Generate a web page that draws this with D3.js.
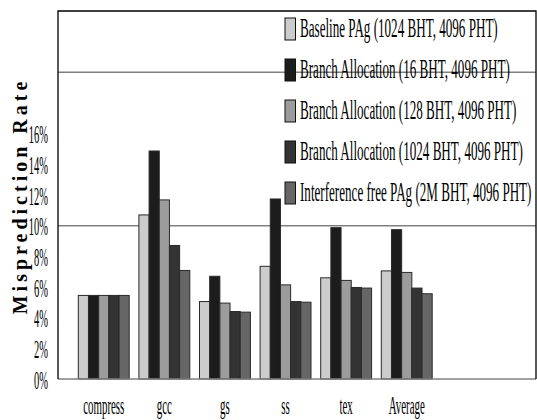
<!DOCTYPE html>
<html>
<head>
<meta charset="utf-8">
<script src="https://cdn.jsdelivr.net/npm/d3@7"></script>
<style>
  body { margin: 0; background: #fff; }
  svg { display: block; }
  text { font-family: "Liberation Serif", "Times New Roman", serif; fill: #000; }
</style>
</head>
<body>
<div class="graph"></div>
<script>
let benchmarks = ["compress", "gcc", "gs", "ss", "tex", "Average"];
let seriesNames = [
  "Baseline PAg (1024 BHT, 4096 PHT)",
  "Branch Allocation (16 BHT, 4096 PHT)",
  "Branch Allocation (128 BHT, 4096 PHT)",
  "Branch Allocation (1024 BHT, 4096 PHT)",
  "Interference free PAg (2M BHT, 4096 PHT)"
];
let baseline = [5.45, 10.7, 5.05, 7.35, 6.6, 7.05];
let alloc16 = [5.45, 14.87, 6.7, 11.74, 9.87, 9.74];
let alloc128 = [5.45, 11.68, 4.95, 6.14, 6.43, 6.95];
let alloc1024 = [5.45, 8.71, 4.4, 5.05, 5.97, 5.93];
let interferenceFree = [5.45, 7.08, 4.36, 5.01, 5.93, 5.56];
let yTicks = [0, 2, 4, 6, 8, 10, 12, 14, 16];
let gridValues = [10, 20];

let allSeries = [baseline, alloc16, alloc128, alloc1024, interferenceFree];
let colors = ["#cccccc", "#1c1c1c", "#9c9c9c", "#333333", "#666666"];

let w = 537;
let h = 420;
let plotL = 58, plotR = 536, plotT = 11, plotB = 379;

let svg = d3
  .select(".graph")
  .append("svg")
  .attr("width", w)
  .attr("height", h);

let yScale = d3.scaleLinear().domain([0, 24]).range([plotB, plotT]);

let xScale = d3
  .scaleBand()
  .domain(benchmarks)
  .range([plotL, plotL + 394.5])
  .paddingInner(0.16)
  .paddingOuter(0.335);

let xSub = d3
  .scaleBand()
  .domain(d3.range(allSeries.length))
  .range([0, xScale.bandwidth()]);

// grid lines
svg
  .selectAll("line.grid")
  .data(gridValues)
  .enter()
  .append("line")
  .attr("class", "grid")
  .attr("x1", plotL)
  .attr("x2", plotR)
  .attr("y1", (d) => yScale(d))
  .attr("y2", (d) => yScale(d))
  .style("stroke", "#808080")
  .style("stroke-width", 1.5);

// bars
let rows = [];
benchmarks.forEach(function (b, i) {
  allSeries.forEach(function (s, j) {
    rows.push({ bench: b, series: j, value: s[i] });
  });
});

svg
  .selectAll("rect.bar")
  .data(rows)
  .enter()
  .append("rect")
  .attr("class", "bar")
  .attr("x", (d) => xScale(d.bench) + xSub(d.series))
  .attr("y", (d) => yScale(d.value))
  .attr("width", xSub.bandwidth())
  .attr("height", (d) => yScale(0) - yScale(d.value))
  .style("fill", (d) => colors[d.series])
  .style("stroke", "#2a2a2a")
  .style("stroke-width", 1);

// frame
svg
  .append("line")
  .attr("x1", plotL)
  .attr("x2", plotR)
  .attr("y1", plotB)
  .attr("y2", plotB)
  .style("stroke", "#808080")
  .style("stroke-width", 1.5);
svg
  .append("path")
  .attr("d", `M${plotL},${plotB}V${plotT}H${plotR}V${plotB}`)
  .style("fill", "none")
  .style("stroke", "#000")
  .style("stroke-width", 1.3);

// y axis
let yAxis = d3
  .axisLeft(yScale)
  .tickValues(yTicks)
  .tickFormat((d) => d + "%")
  .tickSize(0);
let gy = svg
  .append("g")
  .attr("transform", `translate(${plotL}, 0)`)
  .call(yAxis);
gy.select(".domain").remove();
gy.selectAll("text")
  .attr("x", -10 / 0.42)
  .attr("dy", "0.36em")
  .attr("transform", "scale(0.42,1)")
  .style("font-size", "25px")
  .style("font-family", '"Liberation Serif", serif');

// x axis
let xAxis = d3.axisBottom(xScale).tickSize(0);
let gx = svg
  .append("g")
  .attr("transform", `translate(0, ${plotB})`)
  .call(xAxis);
gx.select(".domain").remove();
gx.selectAll(".tick text")
  .attr("y", 17)
  .attr("transform", "scale(0.42,1)")
  .style("font-size", "26px")
  .style("font-family", '"Liberation Serif", serif');

// y title
svg
  .append("text")
  .attr("transform", "translate(27, 196) rotate(-90)")
  .attr("text-anchor", "middle")
  .style("font-size", "20px")
  .style("font-weight", "bold")
  .style("letter-spacing", "4px")
  .text("Misprediction Rate");

// legend
let legendY = d3
  .scalePoint()
  .domain(d3.range(seriesNames.length))
  .range([18, 182]);

let legend = svg
  .selectAll("g.legend")
  .data(seriesNames)
  .enter()
  .append("g")
  .attr("class", "legend")
  .attr("transform", (d, i) => `translate(285, ${legendY(i)})`);

legend
  .append("rect")
  .attr("width", 10.5)
  .attr("height", 22)
  .style("fill", (d, i) => colors[i])
  .style("stroke", "#111")
  .style("stroke-width", 1);

legend
  .append("text")
  .attr("transform", "translate(15, 18.5) scale(0.485,1)")
  .style("font-size", "27px")
  .text((d) => d);
</script>
</body>
</html>
